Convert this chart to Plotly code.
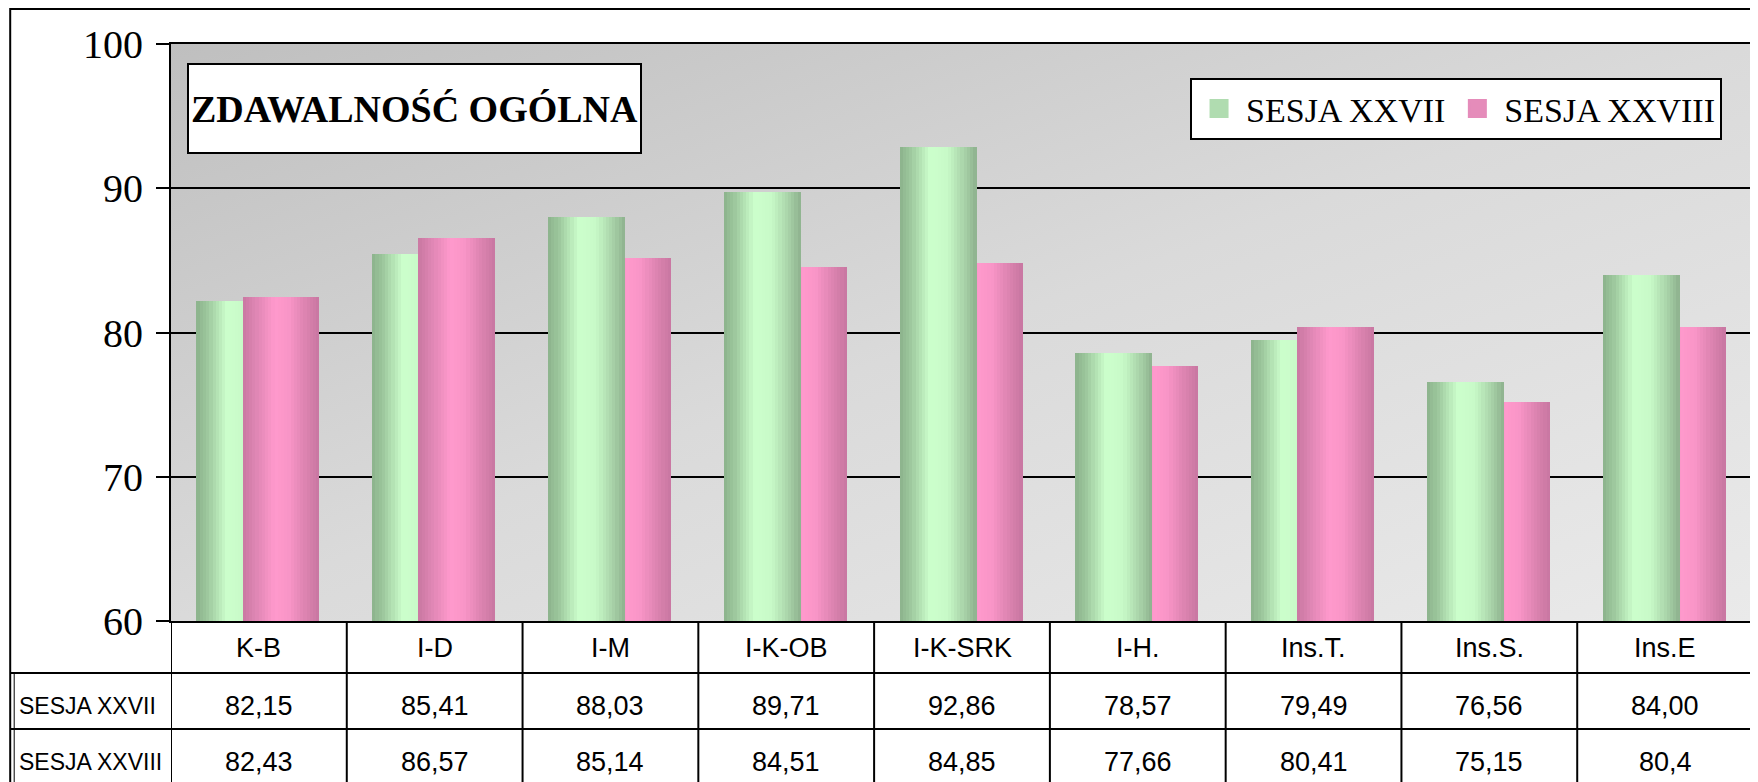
import base64
import plotly.graph_objects as go

# ---------------- data ----------------
categories = ["K-B", "I-D", "I-M", "I-K-OB", "I-K-SRK", "I-H.", "Ins.T.", "Ins.S.", "Ins.E"]
sesja_xxvii = [82.15, 85.41, 88.03, 89.71, 92.86, 78.57, 79.49, 76.56, 84.00]
sesja_xxviii = [82.43, 86.57, 85.14, 84.51, 84.85, 77.66, 80.41, 75.15, 80.40]
sesja_xxvii_text = ["82,15", "85,41", "88,03", "89,71", "92,86", "78,57", "79,49", "76,56", "84,00"]
sesja_xxviii_text = ["82,43", "86,57", "85,14", "84,51", "84,85", "77,66", "80,41", "75,15", "80,4"]
series_names = ["SESJA XXVII", "SESJA XXVIII"]
y_ticks = [60, 70, 80, 90, 100]
title_text = "ZDAWALNOŚĆ OGÓLNA"

# ---------------- layout constants ----------------
OFF = 8  # page body margin
W, H = 1758 - OFF, 782 - OFF
PLOT_L, PLOT_R, PLOT_T, PLOT_B = 171, 1755, 44, 621  # page pixels
ML = PLOT_L - OFF
MR = (W + OFF) - PLOT_R
MT = PLOT_T - OFF
MB = (H + OFF) - PLOT_B
PW = PLOT_R - PLOT_L
PH = PLOT_B - PLOT_T


def px_x(px):
    return (px - PLOT_L) / PW


def px_y(py):
    return (PLOT_B - py) / PH


def hex2rgb(h):
    h = h.lstrip("#")
    return [int(h[i:i + 2], 16) for i in (0, 2, 4)]


def grad(stops, t):
    for (t0, c0), (t1, c1) in zip(stops, stops[1:]):
        if t0 <= t <= t1:
            f = 0 if t1 == t0 else (t - t0) / (t1 - t0)
            a, b = hex2rgb(c0), hex2rgb(c1)
            return "rgb(%d,%d,%d)" % tuple(round(a[k] + (b[k] - a[k]) * f) for k in range(3))
    return stops[-1][1]


green_stops = [(0.0, "#8cb28c"), (0.15, "#9ec99e"), (0.4, "#ccffcc"), (0.62, "#c8fac8"), (0.85, "#a7d0a7"), (1.0, "#8db18d")]
pink_stops = [(0.0, "#c978a2"), (0.2, "#e288b6"), (0.42, "#ff99cc"), (0.6, "#f995c7"), (0.85, "#d881ad"), (1.0, "#c877a1")]
legend_colors = ["#b0dcb0", "#e58cba"]

BAR_W = 0.4375
OFFS = [-0.355, -0.093]
NSL = 24

fig = go.Figure()

vals = [sesja_xxvii, sesja_xxviii]
stops_all = [green_stops, pink_stops]

# legend entries
for s in range(2):
    fig.add_trace(go.Scatter(
        x=[None], y=[None], mode="markers", name=series_names[s], legendgroup=series_names[s],
        marker=dict(symbol="square", size=16, color=legend_colors[s], line=dict(color=legend_colors[s], width=3)),
        showlegend=True, hoverinfo="skip",
    ))

# back layer = shorter bar of each pair, front layer = taller bar
for layer in ("back", "front"):
    for s in range(2):
        other = vals[1 - s]
        ys = []
        for v, o in zip(vals[s], other):
            is_front = v > o if s == 0 else v >= o
            keep = is_front if layer == "front" else not is_front
            ys.append(v if keep else None)
        for i in range(NSL):
            t = (i + 0.5) / NSL
            start = OFFS[s] + i * BAR_W / NSL
            fig.add_trace(go.Bar(
                x=categories, y=ys,
                offset=start, width=BAR_W - i * BAR_W / NSL,
                marker=dict(color=grad(stops_all[s], t), line=dict(width=0)),
                name=series_names[s], legendgroup=series_names[s],
                showlegend=False, hoverinfo="skip",
            ))

# background gradient for plot area
svg = ('<svg xmlns="http://www.w3.org/2000/svg" width="100" height="100" viewBox="0 0 100 100" '
       'preserveAspectRatio="none"><defs><linearGradient id="g" x1="0" y1="0" x2="1" y2="1">'
       '<stop offset="0" stop-color="#bfbfbf"/><stop offset="0.5" stop-color="#dadada"/>'
       '<stop offset="1" stop-color="#eaeaea"/></linearGradient></defs>'
       '<rect width="100" height="100" fill="url(#g)"/></svg>')
src = "data:image/svg+xml;base64," + base64.b64encode(svg.encode()).decode()

shapes = []
line = dict(color="black", width=2)
# outer frame
shapes.append(dict(type="line", xref="paper", yref="paper", x0=px_x(10), x1=px_x(10), y0=px_y(8), y1=px_y(800), line=line))
shapes.append(dict(type="line", xref="paper", yref="paper", x0=px_x(10), x1=px_x(1770), y0=px_y(9), y1=px_y(9), line=line))
shapes.append(dict(type="line", xref="paper", yref="paper", x0=px_x(14), x1=px_x(14), y0=px_y(673), y1=px_y(800), line=dict(color="black", width=1)))
# table vertical lines at category boundaries
for k in range(len(categories) + 1):
    shapes.append(dict(type="line", xref="x", yref="paper", x0=k - 0.5, x1=k - 0.5, y0=0, y1=px_y(800), line=line))
# table horizontal lines
for py in (673, 729):
    shapes.append(dict(type="line", xref="paper", yref="paper", x0=px_x(10), x1=1, y0=px_y(py), y1=px_y(py), line=line))

annotations = []
table_font = dict(family="Liberation Sans, Arial, sans-serif", size=27, color="black")
label_font = dict(family="Liberation Sans, Arial, sans-serif", size=23, color="black")
for c, a, b in zip(categories, sesja_xxvii_text, sesja_xxviii_text):
    for txt, py in ((c, 648), (a, 706), (b, 762)):
        annotations.append(dict(x=c, y=px_y(py), xref="x", yref="paper", xanchor="center", yanchor="middle",
                                text=txt, showarrow=False, font=table_font))
for name, py in zip(series_names, (706, 762)):
    annotations.append(dict(x=px_x(17), y=px_y(py), xref="paper", yref="paper", xanchor="left", yanchor="middle",
                            text=name, showarrow=False, font=label_font))

# title box
annotations.append(dict(
    x=px_x(414.5), y=px_y(108.5), xref="paper", yref="paper", xanchor="center", yanchor="middle",
    text="<b>" + title_text + "</b>", showarrow=False,
    font=dict(family="Liberation Serif, Times New Roman, serif", size=38, color="black"),
    bgcolor="white", bordercolor="black", borderwidth=2, borderpad=2, width=447, height=83,
))

fig.update_layout(
    width=W, height=H,
    margin=dict(l=ML, r=MR, t=MT, b=MB, pad=0),
    paper_bgcolor="white",
    plot_bgcolor="rgba(0,0,0,0)",
    barmode="overlay",
    bargap=0,
    images=[dict(source=src, xref="paper", yref="paper", x=0, y=1, sizex=1, sizey=1,
                 xanchor="left", yanchor="top", sizing="stretch", layer="below")],
    shapes=shapes,
    annotations=annotations,
    legend=dict(
        orientation="h", x=px_x(1724), xanchor="right", y=px_y(78), yanchor="top",
        bgcolor="white", bordercolor="black", borderwidth=2,
        font=dict(family="Liberation Serif, Times New Roman, serif", size=34, color="black"),
        itemsizing="trace", traceorder="normal", itemwidth=44,
    ),
    xaxis=dict(
        type="category", categoryorder="array", categoryarray=categories,
        range=[-0.5, len(categories) - 0.5], showticklabels=False, ticks="",
        showgrid=False, zeroline=False, showline=True, linecolor="black", linewidth=2, mirror=True,
    ),
    yaxis=dict(
        range=[60, 100], tickvals=y_ticks, ticktext=[str(v) for v in y_ticks],
        showgrid=True, gridcolor="black", gridwidth=2, zeroline=False,
        showline=True, linecolor="black", linewidth=2, mirror=True,
        ticks="outside", ticklen=13, tickwidth=2, tickcolor="black",
        ticklabelstandoff=5,
        tickfont=dict(family="Liberation Serif, Times New Roman, serif", size=40, color="black"),
    ),
)

fig.write_html("out.html")
